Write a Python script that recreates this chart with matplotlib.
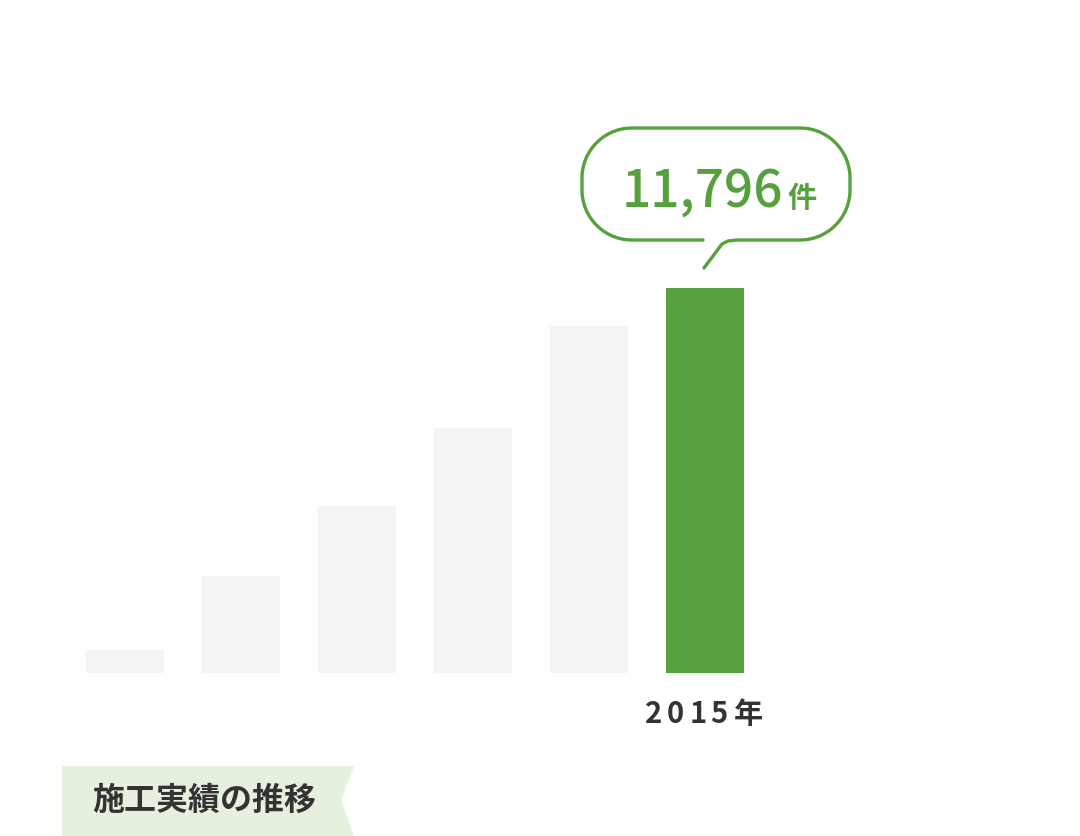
import numpy as np
import matplotlib.pyplot as plt
from matplotlib.patches import Polygon

plt.rcParams['font.family'] = ['Noto Sans CJK JP', 'DejaVu Sans']

# data (施工件数, only the last year is labelled)
years = ['2010年', '2011年', '2012年', '2013年', '2014年', '2015年']
counts = [705, 2970, 5120, 7510, 10630, 11796]
highlight = 5

green = '#56a13e'
grey = '#f4f4f4'
dark = '#333333'

W, H = 1080, 836
fig = plt.figure(figsize=(W / 100, H / 100), dpi=100)

# bar axes: baseline at y=673px, 116px between bars, 78px wide
base_px = 673
px_per_unit = 385 / counts[highlight]
ax = fig.add_axes([0, (H - base_px) / H, 1, base_px / H])
ax.set_xlim(-125 / 116, (W - 125) / 116)
ax.set_ylim(0, base_px / px_per_unit)
x = np.arange(len(counts))
colors = [green if i == highlight else grey for i in x]
ax.bar(x, counts, width=78 / 116, color=colors)
ax.axis('off')

# overlay in pixel coords for labels and decorations
ov = fig.add_axes([0, 0, 1, 1])
ov.set_xlim(0, W)
ov.set_ylim(H, 0)
ov.axis('off')

# year label with letter spacing, char by char
cx = 125 + 116 * highlight
offsets = [-51, -30, -7, 14, 43]
for ch, dx in zip(years[highlight], offsets):
    ov.text(cx + dx, 714, ch, ha='center', va='center', fontsize=21,
            fontweight='bold', color=dark)

# speech bubble
L, R, T, B, r = 582, 850, 128, 240, 50


def arc(xc, yc, a0, a1, n=30):
    t = np.radians(np.linspace(a0, a1, n))
    return xc + r * np.cos(t), yc + r * np.sin(t)


xs, ys = [703], [B]
for seg in [arc(L + r, B - r, 90, 180), arc(L + r, T + r, 180, 270),
            arc(R - r, T + r, 270, 360), arc(R - r, B - r, 0, 90)]:
    xs += list(seg[0])
    ys += list(seg[1])
xs += [737, 728, 722, 704]
ys += [B, B + 1, B + 4, 268]
ov.plot(xs, ys, color=green, lw=2.4, solid_capstyle='round',
        solid_joinstyle='round')

value_txt = f'{counts[highlight]:,}'
ov.text(783, 207, value_txt, ha='right', va='baseline', fontsize=37,
        fontweight='medium', color=green)
ov.text(787, 207, '件', ha='left', va='baseline', fontsize=21,
        fontweight='bold', color=green)

# title banner
ov.add_patch(Polygon([(62, 766), (354, 766), (341, 800), (354, 836), (62, 836)],
                     closed=True, color='#e5f0df', lw=0))
ov.text(92, 801, '施工実績の推移', ha='left', va='center', fontsize=23,
        fontweight='bold', color=dark)

fig.savefig('out.png', dpi=100, facecolor='white')
